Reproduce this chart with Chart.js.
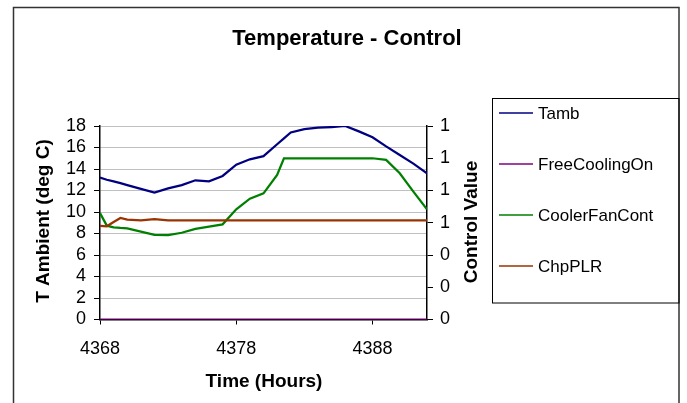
<!DOCTYPE html>
<html>
<head>
<meta charset="utf-8">
<script src="https://cdn.jsdelivr.net/npm/chart.js@4.4.1/dist/chart.umd.min.js"></script>
<style>
  html, body { margin: 0; padding: 0; background: #fff; }
  #wrap { width: 687px; height: 403px; }
</style>
</head>
<body>
<div id="wrap"><canvas id="chart" width="687" height="403"></canvas></div>
<script>
// hourly samples (a few half hours where the curves bend)
const hours = [4368, 4368.5, 4369, 4369.5, 4370, 4371, 4372, 4373, 4374, 4375, 4376, 4377, 4378, 4379,
               4380, 4381, 4381.5, 4382, 4383, 4384, 4385, 4386, 4387, 4388, 4389, 4390, 4391, 4392];

const tamb = [13.2, 13.0, 12.85, 12.68, 12.5, 12.15, 11.8, 12.2, 12.5, 12.95, 12.85, 13.35, 14.4, 14.9,
              15.2, 16.3, 16.85, 17.4, 17.7, 17.85, 17.9, 18.0, 17.5, 16.95, 16.1, 15.3, 14.5, 13.6];

const freeCoolingOn = [0, 0, 0, 0, 0, 0, 0, 0, 0, 0, 0, 0, 0, 0,
                       0, 0, 0, 0, 0, 0, 0, 0, 0, 0, 0, 0, 0, 0];

const coolerFanCont = [0.66, 0.582, 0.572, 0.568, 0.565, 0.545, 0.525, 0.524, 0.538, 0.562, 0.576, 0.59, 0.683, 0.749,
                       0.782, 0.896, 1.0, 1.0, 1.0, 1.0, 1.0, 1.0, 1.0, 1.0, 0.99, 0.907, 0.793, 0.683];

const chpPLR = [0.58, 0.578, 0.605, 0.63, 0.62, 0.615, 0.622, 0.615, 0.615, 0.615, 0.615, 0.615, 0.615, 0.615,
                0.615, 0.615, 0.615, 0.615, 0.615, 0.615, 0.615, 0.615, 0.615, 0.615, 0.615, 0.615, 0.615, 0.615];

const hourTicks = [4368, 4378, 4388];
const seriesNames = ["Tamb", "FreeCoolingOn", "CoolerFanCont", "ChpPLR"];
const seriesColors = ["#000080", "#800080", "#008000", "#993300"];

const FONT = '"Liberation Sans", Arial, sans-serif';

function points(ys) {
    return hours.map((h, i) => ({ x: h, y: ys[i] }));
}

// frame, titles and the boxed legend on the right
const decorations = {
    id: 'decorations',
    afterDraw(chart) {
        const ctx = chart.ctx;
        ctx.save();

        ctx.strokeStyle = '#333';
        ctx.lineWidth = 1.5;
        ctx.strokeRect(13.5, 7.5, 665.5, 430);

        ctx.fillStyle = '#000';
        ctx.textAlign = 'center';
        ctx.textBaseline = 'alphabetic';
        ctx.font = 'bold 22px ' + FONT;
        ctx.fillText('Temperature - Control', 347, 45);

        ctx.font = 'bold 19px ' + FONT;
        ctx.fillText('Time (Hours)', 264, 387);

        ctx.textBaseline = 'middle';
        ctx.save();
        ctx.translate(44, 221);
        ctx.rotate(-Math.PI / 2);
        ctx.fillText('T Ambient (deg C)', 0, 0);
        ctx.restore();

        ctx.save();
        ctx.translate(472, 222);
        ctx.rotate(-Math.PI / 2);
        ctx.fillText('Control Value', 0, 0);
        ctx.restore();

        // legend
        ctx.strokeStyle = '#000';
        ctx.lineWidth = 1;
        ctx.strokeRect(492.5, 98.5, 186.5, 204.5);
        ctx.font = '17px ' + FONT;
        ctx.textAlign = 'left';
        seriesNames.forEach((name, i) => {
            const y = 113 + i * 51;
            ctx.strokeStyle = seriesColors[i];
            ctx.lineWidth = 1.5;
            ctx.beginPath();
            ctx.moveTo(499, y);
            ctx.lineTo(533, y);
            ctx.stroke();
            ctx.fillStyle = '#000';
            ctx.fillText(name, 538, y + 1);
        });

        ctx.restore();
    }
};

const lineStyle = { borderWidth: 2.25, pointRadius: 0, tension: 0, fill: false };

new Chart(document.getElementById('chart'), {
    type: 'line',
    data: {
        datasets: [
            { label: seriesNames[0], data: points(tamb), borderColor: seriesColors[0], yAxisID: 'y', order: 4, ...lineStyle },
            { label: seriesNames[1], data: points(freeCoolingOn), borderColor: seriesColors[1], yAxisID: 'y1', order: 3, ...lineStyle },
            { label: seriesNames[2], data: points(coolerFanCont), borderColor: seriesColors[2], yAxisID: 'y1', order: 2, ...lineStyle },
            { label: seriesNames[3], data: points(chpPLR), borderColor: seriesColors[3], yAxisID: 'y1', order: 1, ...lineStyle }
        ]
    },
    options: {
        responsive: false,
        animation: false,
        events: [],
        layout: { padding: { top: 126, left: 13, right: 220, bottom: 0 } },
        plugins: {
            legend: { display: false },
            title: { display: false },
            tooltip: { enabled: false }
        },
        scales: {
            x: {
                type: 'linear',
                min: 4368,
                max: 4392,
                afterBuildTicks: (scale) => { scale.ticks = hourTicks.map(v => ({ value: v })); },
                afterFit: (scale) => { scale.height = 83.5; },
                grid: { drawOnChartArea: false, tickLength: 5, tickColor: '#000' },
                border: { color: '#000', width: 1.5 },
                ticks: {
                    color: '#000',
                    font: { family: FONT, size: 18 },
                    padding: 14,
                    maxRotation: 0,
                    autoSkip: false,
                    callback: (v) => String(v)
                }
            },
            y: {
                position: 'left',
                min: 0,
                max: 18,
                afterFit: (scale) => { scale.width = 87; },
                grid: { color: '#c0c0c0', lineWidth: 1, tickLength: 6, tickColor: '#000' },
                border: { color: '#000', width: 1.5 },
                ticks: { stepSize: 2, autoSkip: false, color: '#000', font: { family: FONT, size: 18 }, padding: 8 }
            },
            y1: {
                position: 'right',
                min: 0,
                max: 1.2,
                afterFit: (scale) => { scale.width = 40; },
                grid: { drawOnChartArea: false, tickLength: 6, tickColor: '#000' },
                border: { color: '#000', width: 1.5 },
                ticks: {
                    stepSize: 0.2,
                    autoSkip: false,
                    color: '#000',
                    font: { family: FONT, size: 18 },
                    padding: 7,
                    callback: (v) => Math.round(v).toString()
                }
            }
        }
    },
    plugins: [decorations]
});
</script>
</body>
</html>
